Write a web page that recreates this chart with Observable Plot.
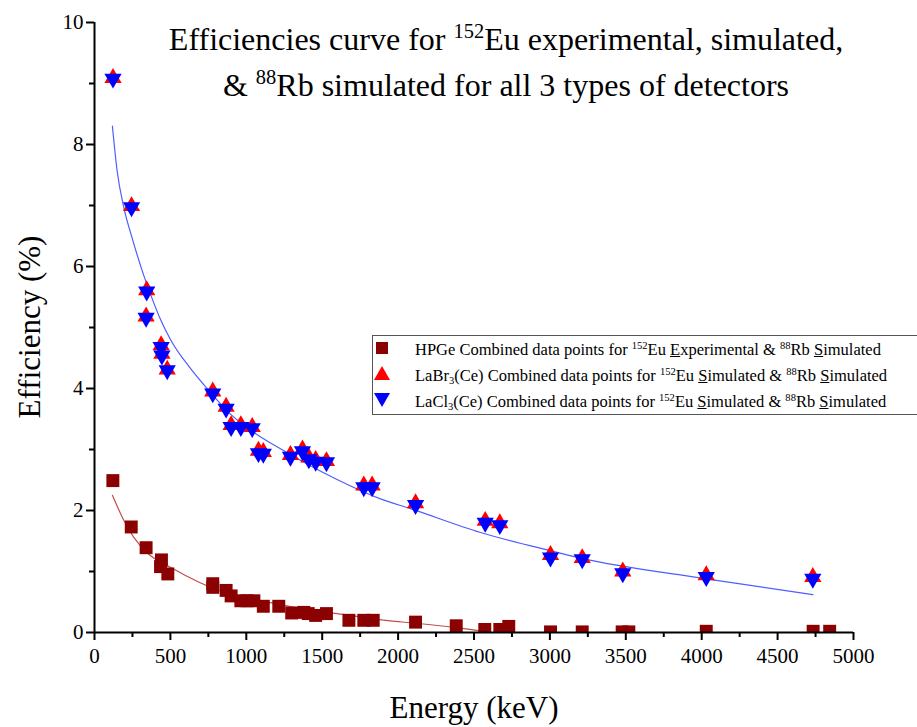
<!DOCTYPE html>
<html>
<head>
<meta charset="utf-8">
<script src="https://cdn.jsdelivr.net/npm/d3@7"></script>
<script src="https://cdn.jsdelivr.net/npm/@observablehq/plot@0.6"></script>
<style>
  body { margin: 0; background: #fff; }
  #wrap { position: relative; width: 917px; height: 727px; overflow: hidden; font-family: "Liberation Serif", "DejaVu Serif", serif; color: #000; }
  #wrap svg { position: absolute; left: 0; top: 0; }
  .title { position: absolute; left: 156px; width: 700px; text-align: center; font-size: 32px; line-height: 42px; top: 18px; white-space: nowrap; }
  .sup { font-size: 0.64em; position: relative; top: -0.58em; }
  .sub { font-size: 0.64em; position: relative; top: 0.3em; }
  .ylab { position: absolute; left: 30px; top: 327px; font-size: 31px; white-space: nowrap; transform: translate(-50%, -50%) rotate(-90deg); }
  .xlab { position: absolute; left: 474px; top: 690px; font-size: 31px; white-space: nowrap; transform: translateX(-50%); }
  .legend { position: absolute; left: 372px; top: 335px; width: 560px; height: 80px; border: 1px solid #555; background: #fff; box-sizing: border-box; }
  .row { position: absolute; left: 0; height: 26px; font-size: 16.5px; white-space: nowrap; }
  .row svg { position: absolute; left: 10px; top: 3px; }
  .row span.t { position: absolute; left: 42px; top: 1px; }
</style>
</head>
<body>
<div id="wrap"></div>
<script>
// ---- data ----
// HPGe (152Eu experimental & 88Rb simulated)
const hpgeEnergy = [121, 242, 340, 435, 441, 483, 779, 779, 867, 900, 964, 1005, 1050, 1112, 1214, 1299, 1379, 1408, 1457, 1528, 1676, 1774, 1836, 2115, 2383, 2571, 2670, 2729, 3004, 3213, 3476, 3520, 4030, 4734, 4843];
const hpgeEff    = [2.49, 1.73, 1.39, 1.08, 1.19, 0.96, 0.80, 0.74, 0.69, 0.60, 0.52, 0.52, 0.52, 0.43, 0.43, 0.32, 0.33, 0.31, 0.28, 0.31, 0.20, 0.20, 0.20, 0.17, 0.11, 0.05, 0.05, 0.10, 0.01, 0.01, 0.01, 0.01, 0.02, 0.02, 0.02];
// LaBr3(Ce)
const labrEnergy = [122, 244, 344, 340, 439, 444, 479, 779, 867, 900, 964, 1039, 1080, 1112, 1291, 1370, 1412, 1457, 1528, 1774, 1829, 2115, 2574, 2670, 3004, 3213, 3480, 4030, 4732];
const labrEff    = [9.09, 6.99, 5.61, 5.18, 4.71, 4.57, 4.31, 3.95, 3.70, 3.40, 3.40, 3.37, 2.98, 2.96, 2.91, 3.00, 2.87, 2.83, 2.81, 2.41, 2.41, 2.12, 1.83, 1.79, 1.27, 1.22, 1.00, 0.94, 0.91];
// LaCl3(Ce)
const laclEnergy = [122, 244, 344, 340, 439, 444, 479, 779, 867, 900, 964, 1039, 1080, 1112, 1291, 1370, 1412, 1457, 1528, 1774, 1829, 2115, 2574, 2670, 3004, 3213, 3480, 4030, 4732];
const laclEff    = [9.08, 6.97, 5.59, 5.16, 4.68, 4.54, 4.30, 3.92, 3.67, 3.37, 3.37, 3.35, 2.94, 2.93, 2.88, 2.97, 2.84, 2.80, 2.79, 2.38, 2.38, 2.09, 1.80, 1.76, 1.23, 1.20, 0.97, 0.91, 0.88];
// fitted curves
const fitScintE   = [118, 149, 193, 250, 325, 391, 435, 501, 632, 742, 896, 1050, 1247, 1588, 1884, 2082, 2543, 3004, 3202, 4030, 4732];
const fitScintEff = [8.30, 7.57, 6.97, 6.45, 5.85, 5.40, 5.13, 4.80, 4.33, 4.00, 3.58, 3.28, 2.98, 2.52, 2.19, 2.03, 1.64, 1.34, 1.22, 0.88, 0.62];
const fitHpgeE    = [118, 193, 259, 350, 500, 852, 1159, 1300, 1599, 1950, 2082, 2389, 2560];
const fitHpgeEff  = [2.25, 1.84, 1.56, 1.30, 1.07, 0.66, 0.49, 0.42, 0.31, 0.19, 0.16, 0.08, 0.02];
// axis ticks
const xMajor = [0, 500, 1000, 1500, 2000, 2500, 3000, 3500, 4000, 4500, 5000];
const xMinor = [250, 750, 1250, 1750, 2250, 2750, 3250, 3750, 4250, 4750];
const yMajor = [0, 2, 4, 6, 8, 10];
const yMinor = [1, 3, 5, 7, 9];

const zip = (xs, ys) => xs.map((x, i) => ({x, y: ys[i]}));
const hpge = zip(hpgeEnergy, hpgeEff);
const labr = zip(labrEnergy, labrEff);
const lacl = zip(laclEnergy, laclEff);
const fitScint = zip(fitScintE, fitScintEff);
const fitHpge = zip(fitHpgeE, fitHpgeEff);

const sqrt3 = Math.sqrt(3);
const triDown = {
  draw(context, size) {
    const y = -Math.sqrt(size / (sqrt3 * 3));
    context.moveTo(0, -y * 2);
    context.lineTo(-sqrt3 * y, y);
    context.lineTo(sqrt3 * y, y);
    context.closePath();
  }
};

const WINE = "#8b0000";
const chart = Plot.plot({
  width: 917,
  height: 727,
  marginLeft: 94,
  marginRight: 64,
  marginTop: 22,
  marginBottom: 95,
  style: { fontFamily: "'Liberation Serif', 'DejaVu Serif', serif", fontSize: "21px", color: "#000", background: "transparent" },
  x: { domain: [0, 5000] },
  y: { domain: [0, 10] },
  marks: [
    Plot.line(fitHpge, { x: "x", y: "y", stroke: "#c0504d", strokeWidth: 1.2, curve: "monotone-x" }),
    Plot.line(fitScint, { x: "x", y: "y", stroke: "#4f5dff", strokeWidth: 1.2, curve: "monotone-x" }),
    Plot.dot(hpge, { x: "x", y: "y", symbol: "square", r: 7.3, fill: WINE, clip: true }),
    Plot.dot(labr, { x: "x", y: "y", symbol: "triangle", r: 6.4, fill: "#ff0000" }),
    Plot.dot(lacl, { x: "x", y: "y", symbol: triDown, r: 6.4, fill: "#0000ff" }),
    Plot.axisX({ ticks: xMajor, tickSize: 8, tickPadding: 8, strokeWidth: 2, label: null, tickFormat: d => String(d) }),
    Plot.axisX({ ticks: xMinor, tickSize: 5, strokeWidth: 2, text: null, label: null }),
    Plot.axisY({ ticks: yMajor, tickSize: 8, tickPadding: 3, strokeWidth: 2, label: null, tickFormat: d => String(d) }),
    Plot.axisY({ ticks: yMinor, tickSize: 5, strokeWidth: 2, text: null, label: null }),
    Plot.ruleX([0], { strokeWidth: 2 }),
    Plot.ruleY([0], { strokeWidth: 2 })
  ]
});

const wrap = document.getElementById("wrap");
wrap.appendChild(chart);

const title = document.createElement("div");
title.className = "title";
title.innerHTML = 'Efficiencies curve for <span class="sup">152</span>Eu experimental, simulated,<br>&amp; <span class="sup">88</span>Rb simulated for all 3 types of detectors';
wrap.appendChild(title);

const ylab = document.createElement("div");
ylab.className = "ylab";
ylab.textContent = "Efficiency (%)";
wrap.appendChild(ylab);

const xlab = document.createElement("div");
xlab.className = "xlab";
xlab.textContent = "Energy (keV)";
wrap.appendChild(xlab);

const legend = document.createElement("div");
legend.className = "legend";
const rows = [
  { sym: '<rect x="3" y="3" width="12" height="12" fill="' + WINE + '"/>', text: 'HPGe Combined data points for <span class="sup">152</span>Eu <u>E</u>xperimental &amp; <span class="sup">88</span>Rb <u>S</u>imulated' },
  { sym: '<path d="M9,1 L17,15 L1,15 Z" fill="#ff0000"/>', text: 'LaBr<span class="sub">3</span>(Ce) Combined data points for <span class="sup">152</span>Eu <u>S</u>imulated &amp; <span class="sup">88</span>Rb <u>S</u>imulated' },
  { sym: '<path d="M1,2 L17,2 L9,16 Z" fill="#0000ff"/>', text: 'LaCl<span class="sub">3</span>(Ce) Combined data points for <span class="sup">152</span>Eu <u>S</u>imulated &amp; <span class="sup">88</span>Rb <u>S</u>imulated' }
];
rows.forEach((r, i) => {
  const d = document.createElement("div");
  d.className = "row";
  d.style.top = (3 + i * 26) + "px";
  d.innerHTML = '<svg width="18" height="18">' + r.sym + '</svg><span class="t">' + r.text + '</span>';
  legend.appendChild(d);
});
wrap.appendChild(legend);
</script>
</body>
</html>
